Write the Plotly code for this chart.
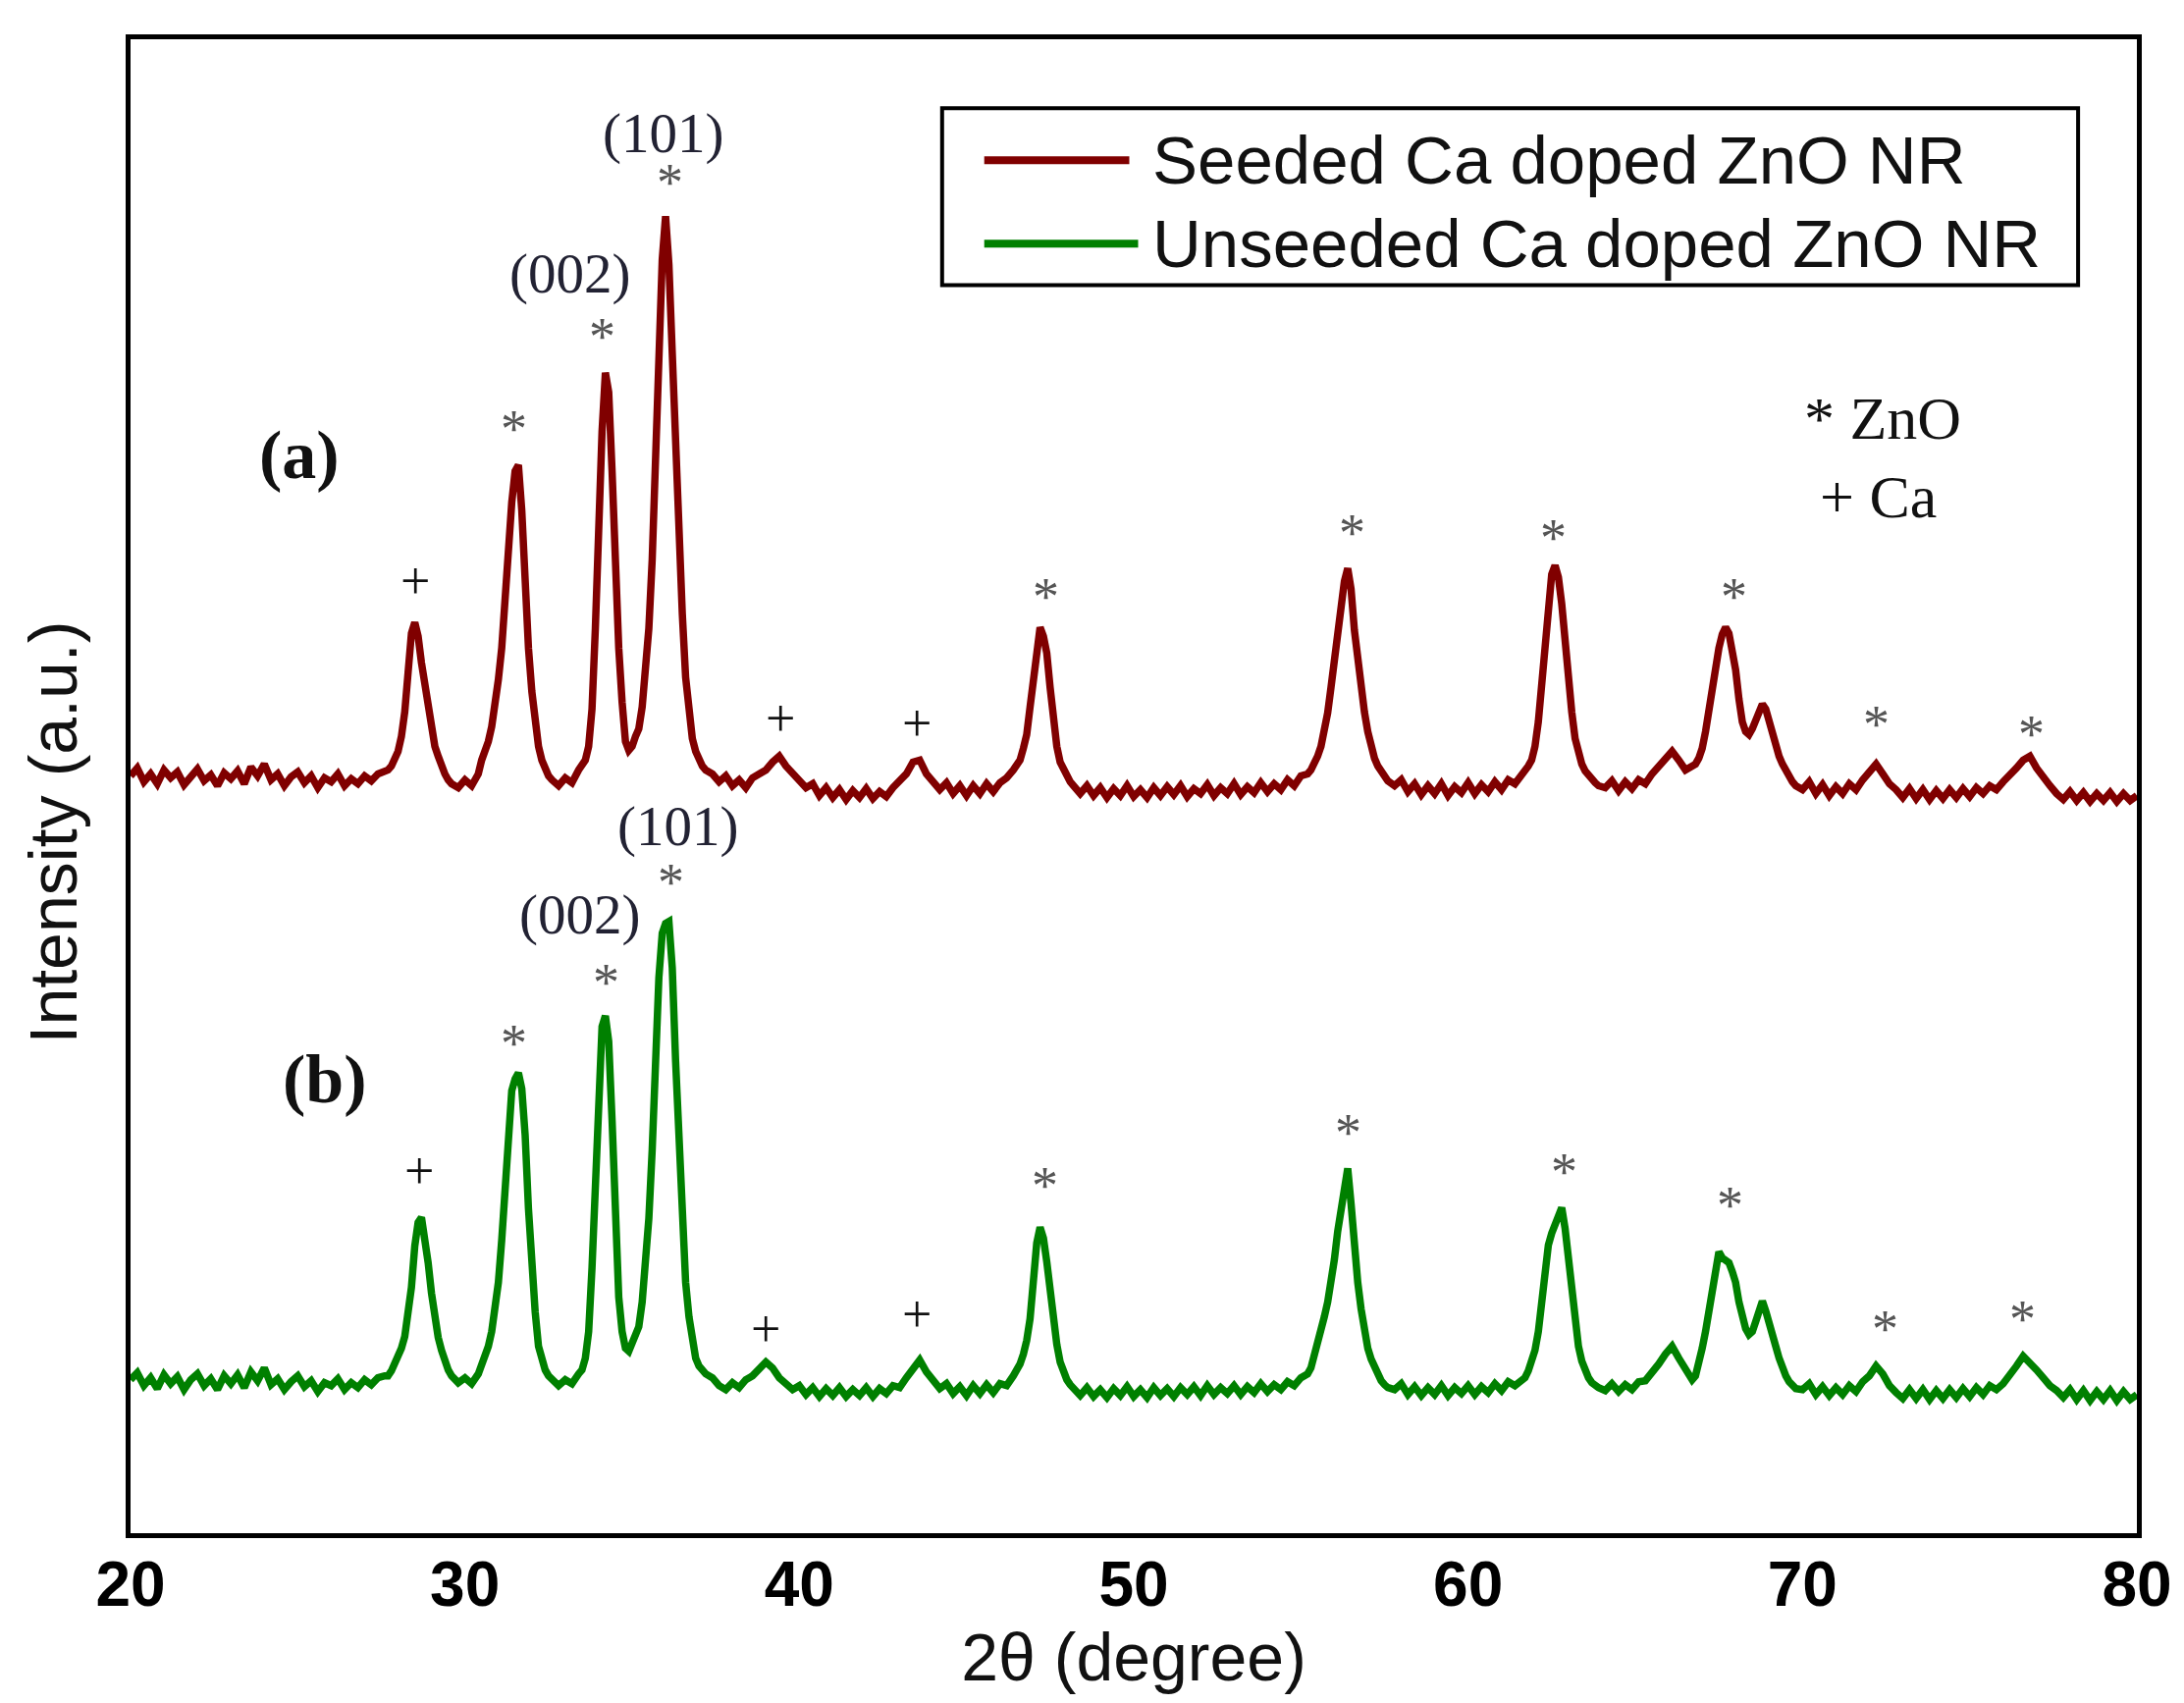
import plotly.graph_objects as go

# 2-theta grid shared by both scans (coarser on the flat baseline, finer on the peaks)
two_theta = [
    20.0, 20.2, 20.4, 20.6, 20.8, 21.0, 21.2, 21.4, 21.6, 21.8,
    22.0, 22.2, 22.4, 22.6, 22.8, 23.0, 23.2, 23.4, 23.6, 23.8,
    24.0, 24.2, 24.4, 24.6, 24.8, 25.0, 25.2, 25.4, 25.6, 25.8,
    26.0, 26.2, 26.4, 26.6, 26.8, 27.0, 27.2, 27.4, 27.6,
    27.7, 27.8, 27.9, 28.0, 28.1, 28.2, 28.3, 28.4, 28.5, 28.6,
    28.7, 28.8, 28.9, 29.0, 29.1, 29.2, 29.3, 29.4, 29.5, 29.6,
    29.8, 30.0, 30.2, 30.4,
    30.5, 30.6, 30.7, 30.8, 30.9, 31.0, 31.1, 31.2, 31.3, 31.4,
    31.5, 31.6, 31.7, 31.8, 31.9, 32.0, 32.1, 32.2, 32.3, 32.4,
    32.5, 32.6,
    32.8, 33.0, 33.2, 33.4,
    33.5, 33.6, 33.7, 33.8, 33.9, 34.0, 34.1, 34.2, 34.3, 34.4,
    34.5, 34.6, 34.7, 34.8, 34.9, 35.0, 35.1, 35.2, 35.3, 35.4,
    35.5, 35.6, 35.7, 35.8, 35.9, 36.0, 36.1, 36.2, 36.3, 36.4,
    36.5, 36.6, 36.7, 36.8, 36.9, 37.0, 37.1, 37.2,
    37.4, 37.6, 37.8, 38.0, 38.2, 38.4, 38.6, 38.8, 39.0, 39.2,
    39.4, 39.6, 39.8, 40.0, 40.2, 40.4, 40.6, 40.8, 41.0, 41.2,
    41.4, 41.6, 41.8, 42.0, 42.2, 42.4, 42.6, 42.8, 43.0, 43.2,
    43.4, 43.6, 43.8, 44.0, 44.2, 44.4, 44.6, 44.8, 45.0, 45.2,
    45.4, 45.6, 45.8, 46.0, 46.2, 46.4,
    46.5, 46.6, 46.7, 46.8, 46.9, 47.0, 47.1, 47.2, 47.3, 47.4,
    47.5, 47.6, 47.7, 47.8, 47.9, 48.0, 48.1, 48.2,
    48.4, 48.6, 48.8, 49.0, 49.2, 49.4, 49.6, 49.8, 50.0, 50.2,
    50.4, 50.6, 50.8, 51.0, 51.2, 51.4, 51.6, 51.8, 52.0, 52.2,
    52.4, 52.6, 52.8, 53.0, 53.2, 53.4, 53.6, 53.8, 54.0, 54.2,
    54.4, 54.6, 54.8, 55.0, 55.2,
    55.3, 55.4, 55.5, 55.6, 55.7, 55.8, 55.9, 56.0, 56.1, 56.2,
    56.3, 56.4, 56.5, 56.6, 56.7, 56.8, 56.9, 57.0, 57.1, 57.2,
    57.3, 57.4, 57.5, 57.6,
    57.8, 58.0, 58.2, 58.4, 58.6, 58.8, 59.0, 59.2, 59.4, 59.6,
    59.8, 60.0, 60.2, 60.4, 60.6, 60.8, 61.0, 61.2, 61.4, 61.6,
    61.7, 61.8, 61.9, 62.0, 62.1, 62.2, 62.3, 62.4, 62.5, 62.6,
    62.7, 62.8, 62.9, 63.0, 63.1, 63.2, 63.3, 63.4, 63.5, 63.6,
    63.7, 63.8, 63.9,
    64.1, 64.3, 64.5, 64.7, 64.9, 65.1, 65.3, 65.5, 65.7, 65.9,
    66.1, 66.3, 66.5, 66.7,
    66.8, 66.9, 67.0, 67.1, 67.2, 67.3, 67.4, 67.5, 67.6, 67.7,
    67.8, 67.9, 68.0, 68.1, 68.2, 68.3, 68.4, 68.5, 68.6, 68.7,
    68.8, 68.9, 69.0, 69.1, 69.2, 69.3, 69.4, 69.5, 69.6, 69.7,
    69.8,
    70.0, 70.2, 70.4, 70.6, 70.8, 71.0, 71.2, 71.4, 71.6, 71.8,
    72.0, 72.2, 72.4, 72.6, 72.8, 73.0, 73.2, 73.4, 73.6, 73.8,
    74.0, 74.2, 74.4, 74.6, 74.8, 75.0, 75.2, 75.4, 75.6, 75.8,
    76.0, 76.2, 76.4, 76.6, 76.8, 77.0, 77.2, 77.4, 77.6, 77.8,
    78.0, 78.2, 78.4, 78.6, 78.8, 79.0, 79.2, 79.4, 79.6, 79.8,
    80.0,
]

# (a) seeded sample, arbitrary units (offset upwards)
seeded = [
    770, 778, 764, 772, 762, 776, 768, 774, 761, 770,
    777, 765, 771, 760, 773, 767, 775, 762, 779, 770,
    782, 766, 772, 760, 769, 774, 763, 770, 758, 768,
    764, 772, 760, 767, 762, 770, 765, 772, 775,
    776, 780, 786, 795, 810, 835, 875, 915, 926, 912,
    885, 862, 838, 820, 800, 790, 779, 772, 766, 762,
    758, 766, 760, 772,
    786, 795, 805, 820, 840, 868, 900, 960, 1015, 1048,
    1080, 1086, 1040, 960, 900, 856, 822, 800, 786, 775,
    770, 766,
    760, 768, 763, 776,
    780, 786, 800, 838, 920, 1030, 1120, 1180, 1160, 1080,
    975, 900, 845, 805, 796, 800, 810, 818, 840, 872,
    920, 990, 1100, 1210, 1295, 1339, 1290, 1200, 1100, 1010,
    935, 870, 830, 808, 795, 786, 780, 776,
    772, 764, 770, 760, 766, 758, 768, 772, 776, 784,
    790, 780, 773, 764, 758, 762, 750, 758, 748, 756,
    746, 755, 748, 757, 747, 754, 749, 758, 764, 772,
    784, 786, 772, 764, 756, 763, 752, 760, 750, 760,
    752, 762, 754, 763, 768, 776,
    780, 786, 798, 812, 840, 868, 900, 921, 912, 895,
    860, 828, 800, 784, 776, 768, 764, 760,
    752, 760, 750, 758, 748, 757, 750, 760, 749, 756,
    748, 758, 750, 759, 751, 760, 749, 757, 752, 761,
    750, 758, 752, 762, 751, 759, 753, 763, 754, 762,
    756, 766, 760, 770, 772,
    776, 782, 790, 800, 815, 834, 860, 888, 915, 945,
    968, 981, 960, 918, 888, 862, 835, 815, 800, 788,
    780, 774, 768, 765,
    760, 766, 754, 762, 751, 760, 752, 762, 750, 759,
    753, 763, 752, 761, 754, 764, 756, 766, 762, 770,
    774, 780, 786, 800, 825, 860, 900, 945, 975, 984,
    972, 945, 905, 868, 835, 808, 792, 782, 775, 770,
    766, 763, 760,
    758, 765, 755, 764, 757, 766, 762, 772, 780, 788,
    795, 786, 776, 780,
    782, 788, 798, 815, 838, 862, 882, 900, 914, 921,
    915, 898, 878, 848, 825, 815, 812, 818, 828, 838,
    843, 838, 825, 812, 800, 790, 782, 775, 768, 764,
    760,
    756, 764, 752, 761, 750, 759, 752, 762, 756, 766,
    774, 782, 772, 762, 756, 748, 757, 747, 756, 746,
    755, 747, 756, 748, 757, 749, 758, 752, 760, 756,
    764, 770, 778, 786, 790, 778, 768, 760, 752, 746,
    754, 745, 753, 744, 752, 745, 753, 744, 752, 745,
    750,
]

# (b) unseeded sample
unseeded = [
    156, 163, 150, 158, 147, 161, 152, 159, 146, 156,
    162, 150, 157, 146, 160, 152, 161, 148, 164, 155,
    168, 151, 157, 146, 154, 160, 149, 155, 144, 153,
    150, 157, 146, 153, 148, 156, 151, 158, 160,
    160, 165, 172, 178, 188, 200, 220, 250, 292, 316,
    321, 302, 275, 244, 218, 199, 186, 175, 166, 160,
    153, 158, 152, 162,
    170, 178, 190, 205, 225, 255, 298, 360, 410, 450,
    462, 468, 452, 405, 330, 270, 225, 190, 175, 166,
    160, 156,
    150, 156, 152, 162,
    166, 178, 205, 270, 360, 470, 515, 526, 500, 420,
    320, 240, 205, 188, 185, 195, 200, 210, 235, 270,
    320, 390, 480, 565, 610, 620, 622, 575, 480, 390,
    310, 255, 220, 195, 178, 170, 165, 162,
    158, 150, 146, 153, 148, 156, 160, 166, 174, 168,
    158, 152, 146, 150, 141, 148, 139, 147, 140, 148,
    139, 146, 140, 148, 139, 147, 142, 150, 148, 158,
    168, 176, 164, 155, 147, 152, 142, 149, 140, 150,
    142, 151, 143, 152, 150, 160,
    165, 172, 182, 196, 218, 255, 295, 311, 300, 276,
    245, 218, 192, 174, 164, 156, 151, 148,
    140, 148, 139, 146, 138, 147, 140, 149, 139, 146,
    138, 148, 140, 147, 139, 148, 141, 149, 140, 150,
    141, 148, 142, 150, 141, 149, 143, 152, 144, 151,
    146, 154, 150, 158, 162,
    168, 180, 192, 205, 220, 235, 252, 278, 307, 330,
    352, 371, 335, 288, 255, 228, 204, 188, 177, 168,
    160, 155, 151, 148,
    146, 152, 141, 149, 140, 148, 141, 150, 140, 148,
    142, 150, 141, 149, 143, 152, 145, 154, 150, 157,
    158, 165, 175, 186, 205, 238, 268, 293, 305, 315,
    324, 331, 310, 276, 240, 212, 190, 175, 165, 158,
    153, 150, 148,
    145, 152, 144, 151, 146, 154, 155, 163, 172, 182,
    190, 178, 166, 156,
    160, 172, 188, 205, 224, 248, 272, 286, 280, 278,
    275, 266, 255, 235, 220, 208, 202, 205, 215, 228,
    236, 226, 212, 203, 190, 178, 168, 160, 154, 150,
    147,
    146, 152, 141, 149, 140, 148, 141, 150, 144, 154,
    160, 170, 162, 150, 143, 137, 146, 137, 146, 136,
    145, 137, 146, 138, 147, 139, 148, 141, 150, 146,
    152, 160, 170, 180, 174, 166, 158, 150, 145, 138,
    146, 136, 145, 135, 144, 136, 145, 135, 144, 136,
    141,
]

assert len(two_theta) == len(seeded) == len(unseeded)

series_names = ["Seeded Ca doped ZnO NR", "Unseeded Ca doped ZnO NR"]
series_colors = ["#800000", "#008000"]

# phase markers above the peaks (* = ZnO, + = Ca)
mark_sym = ["+", "*", "*", "*", "+", "+", "*", "*", "*", "*", "*", "*"]
mark_a_x = [28.5, 31.47, 34.11, 36.12, 39.43, 43.5, 47.38, 56.54, 62.54, 67.96, 72.2, 76.83]
mark_a_y = [964, 1127, 1221, 1377, 824, 819, 956, 1021, 1016, 956, 826, 816]
mark_b_x = [28.64, 31.47, 34.22, 36.15, 38.99, 43.5, 47.35, 56.42, 62.86, 67.84, 72.46, 76.59]
mark_b_y = [364, 502, 564, 666, 204, 219, 357, 411, 371, 337, 212, 222]

# Miller indices
hkl_text = ["(002)", "(101)"]
hkl_a_x = [33.15, 35.91]
hkl_a_y = [1270, 1413]
hkl_b_x = [33.44, 36.37]
hkl_b_y = [619, 709]

# panel labels
panel_text = ["(a)", "(b)"]
panel_x = [25.04, 25.8]
panel_y = [1086, 452]

# key for the markers
key_text = ["* ZnO", "+ Ca"]
key_x = [70.0, 70.45]
key_y = [1134, 1054]

x_ticks = [20, 30, 40, 50, 60, 70, 80]

SERIF = "Liberation Serif"
SANS = "Liberation Sans"

fig = go.Figure()
for yy, name, color in zip([seeded, unseeded], series_names, series_colors):
    fig.add_trace(go.Scatter(
        x=two_theta, y=yy, name=name, mode="lines",
        line=dict(color=color, width=7.5),
        showlegend=False,
    ))

annotations = []
# markers
for xs, ys in [(mark_a_x, mark_a_y), (mark_b_x, mark_b_y)]:
    for x, y, s in zip(xs, ys, mark_sym):
        annotations.append(dict(
            x=x, y=y, text=s, showarrow=False,
            yshift=-4 if s == "*" else 4,
            font=dict(family=SERIF, size=54, color="#555555" if s == "*" else "#111111"),
        ))
# hkl
for xs, ys in [(hkl_a_x, hkl_a_y), (hkl_b_x, hkl_b_y)]:
    for x, y, t in zip(xs, ys, hkl_text):
        annotations.append(dict(
            x=x, y=y, text=t, showarrow=False, yshift=10,
            font=dict(family=SERIF, size=57, color="#222233"),
        ))
# (a), (b)
for x, y, t in zip(panel_x, panel_y, panel_text):
    annotations.append(dict(
        x=x, y=y, text="<b>" + t + "</b>", showarrow=False, yshift=10,
        font=dict(family=SERIF, size=70, color="#111111"),
    ))
# * ZnO / + Ca key
for x, y, t in zip(key_x, key_y, key_text):
    annotations.append(dict(
        x=x, y=y, text=t, showarrow=False, xanchor="left",
        font=dict(family=SERIF, size=62, color="#111111"),
    ))

# y-axis title
annotations.append(dict(
    x=-0.0385, y=0.469, xref="paper", yref="paper", text="Intensity (a.u.)",
    xanchor="center", yanchor="middle",
    textangle=-90, showarrow=False,
    font=dict(family=SANS, size=68, color="#111111"),
))

# legend drawn by hand so the line samples can be long like the original
shapes = [dict(
    type="rect", xref="paper", yref="paper",
    x0=0.4045, x1=0.9707, y0=0.8354, y1=0.9539,
    line=dict(color="black", width=4), fillcolor="white",
)]
legend_y = [0.919, 0.8631]
legend_x1 = [0.4978, 0.5022]
for name, color, ly, lx1 in zip(series_names, series_colors, legend_y, legend_x1):
    shapes.append(dict(
        type="line", xref="paper", yref="paper",
        x0=0.4255, x1=lx1, y0=ly, y1=ly,
        line=dict(color=color, width=8),
    ))
    annotations.append(dict(
        x=0.5085, y=ly, xref="paper", yref="paper", text=name,
        xanchor="left", yanchor="middle", showarrow=False,
        font=dict(family=SANS, size=69, color="#111111"),
    ))

fig.update_layout(
    width=2225, height=1735,
    margin=dict(l=125, r=56, t=32, b=181),
    paper_bgcolor="white", plot_bgcolor="white",
    annotations=annotations, shapes=shapes,
    xaxis=dict(
        range=[20, 80], tickvals=x_ticks, ticks="",
        showline=True, mirror=True, linecolor="black", linewidth=5,
        showgrid=False, zeroline=False,
        tickfont=dict(family=SANS, size=64, color="black", weight="bold"),
        ticklabelstandoff=-8,
        title=dict(text="2θ (degree)", standoff=10,
                   font=dict(family=SANS, size=68, color="#111111")),
    ),
    yaxis=dict(
        range=[0, 1519], showticklabels=False, ticks="",
        showline=True, mirror=True, linecolor="black", linewidth=5,
        showgrid=False, zeroline=False,
    ),
)

fig.write_html("out.html")
